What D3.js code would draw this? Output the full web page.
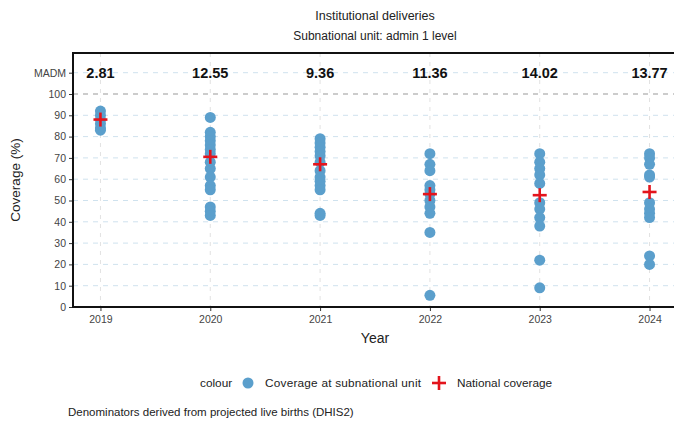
<!DOCTYPE html>
<html><head><meta charset="utf-8">
<script src="https://cdn.jsdelivr.net/npm/d3@7"></script>
<style>body{margin:0;background:#fff;font-family:"Liberation Sans",Arial,sans-serif}</style>
</head><body><svg id="c" width="674" height="422"></svg>
<script>
const years = [2019, 2020, 2021, 2022, 2023, 2024];
const madm = ["2.81", "12.55", "9.36", "11.36", "14.02", "13.77"];
const national = [88, 70.5, 67, 53, 52.5, 54];
const sub2019 = [92, 90, 88, 86, 84, 83];
const sub2020 = [89, 82, 80, 78, 76, 74, 72, 68, 65, 61, 57, 55, 47, 45, 43];
const sub2021 = [79, 77, 75, 73, 71, 68, 64, 61, 59, 57, 55, 44, 43];
const sub2022 = [72, 67, 64, 57, 55, 53, 50, 47, 44, 35, 5.5];
const sub2023 = [72, 68, 65, 62, 58, 49, 46, 42, 38, 22, 9];
const sub2024 = [72, 70, 67, 62, 61, 49, 46, 44, 42, 24, 20];
const subnational = [sub2019, sub2020, sub2021, sub2022, sub2023, sub2024];
const yTicks = [0,10,20,30,40,50,60,70,80,90,100];

const svg = d3.select("#c");
const L = 73, R = 677, T = 53, B = 307;
const x = d3.scaleLinear().domain([2018.75, 2024.25]).range([L, R]);
const y = d3.scaleLinear().domain([0, 100]).range([B, 94]);

// grid
const g = svg.append("g");
g.selectAll(".hg").data(yTicks.concat([110])).enter().append("line")
  .attr("x1", L).attr("x2", R).attr("y1", d => y(d)).attr("y2", d => y(d))
  .attr("stroke", d => d === 100 ? "#9a9a9a" : "#cfe2ee")
  .attr("stroke-width", d => d === 100 ? 1.2 : 1)
  .attr("stroke-dasharray", "5,5");
g.selectAll(".vg").data(years).enter().append("line")
  .attr("x1", d => x(d)).attr("x2", d => x(d)).attr("y1", T).attr("y2", B)
  .attr("stroke", "#e2e2e2").attr("stroke-dasharray", "4,5");

// axes
const yAxis = d3.axisLeft(y).tickValues(yTicks.concat([110])).tickSize(4)
  .tickFormat(d => d === 110 ? "MADM" : d);
const ya = svg.append("g").attr("transform", `translate(${L},0)`).call(yAxis);
ya.select(".domain").remove();
ya.selectAll("text").attr("font-size", 10.5).attr("fill", "#444").attr("font-family", "Liberation Sans, Arial");
ya.selectAll("line").attr("stroke", "#333");
const xAxis = d3.axisBottom(x).tickValues(years).tickFormat(d3.format("d")).tickSize(4);
const xa = svg.append("g").attr("transform", `translate(0,${B})`).call(xAxis);
xa.select(".domain").remove();
xa.selectAll("text").attr("font-size", 10.5).attr("fill", "#444").attr("font-family", "Liberation Sans, Arial").attr("dy", "0.9em");
xa.selectAll("line").attr("stroke", "#333");

svg.append("line").attr("x1", L).attr("x2", L).attr("y1", T).attr("y2", B).attr("stroke", "#111").attr("stroke-width", 2);
svg.append("line").attr("x1", L-1).attr("x2", 674).attr("y1", B).attr("y2", B).attr("stroke", "#111").attr("stroke-width", 2);
svg.append("line").attr("x1", L-1).attr("x2", 674).attr("y1", T).attr("y2", T).attr("stroke", "#111").attr("stroke-width", 2);

// MADM labels
svg.selectAll(".madm").data(years).enter().append("text")
  .attr("x", d => x(d)).attr("y", y(110)).attr("dy", "0.35em")
  .attr("text-anchor", "middle").attr("font-size", 14.5).attr("font-weight", "bold")
  .attr("fill", "#111").text((d, i) => madm[i]);

// points
const pts = [];
years.forEach((yr, i) => subnational[i].forEach(v => pts.push({yr, v})));
svg.selectAll(".pt").data(pts).enter().append("circle")
  .attr("cx", d => x(d.yr)).attr("cy", d => y(d.v)).attr("r", 5.5)
  .attr("fill", "#5b9fcc");

// national crosses
const cs = 7;
const cross = svg.selectAll(".nat").data(years).enter().append("g")
  .attr("transform", (d, i) => `translate(${x(d)},${y(national[i])})`);
cross.append("line").attr("x1", -cs).attr("x2", cs).attr("stroke", "#e3141c").attr("stroke-width", 2.6);
cross.append("line").attr("y1", -cs).attr("y2", cs).attr("stroke", "#e3141c").attr("stroke-width", 2.6);

// titles
svg.append("text").attr("x", 375).attr("y", 20).attr("text-anchor", "middle").attr("font-size", 12.5).attr("fill", "#222").text("Institutional deliveries");
svg.append("text").attr("x", 375).attr("y", 40).attr("text-anchor", "middle").attr("font-size", 12).attr("fill", "#222").text("Subnational unit: admin 1 level");
svg.append("text").attr("x", 375).attr("y", 343).attr("text-anchor", "middle").attr("font-size", 14).attr("fill", "#222").text("Year");
svg.append("text").attr("transform", "translate(20,180) rotate(-90)").attr("text-anchor", "middle").attr("font-size", 13.5).attr("fill", "#222").text("Coverage (%)");

// legend
const lg = svg.append("g").attr("font-size", 11.8).attr("fill", "#222");
lg.append("text").attr("x", 200).attr("y", 387).text("colour");
lg.append("circle").attr("cx", 248).attr("cy", 383).attr("r", 5.5).attr("fill", "#5b9fcc");
lg.append("text").attr("x", 265).attr("y", 387).attr("textLength", 156).text("Coverage at subnational unit");
lg.append("line").attr("x1", 432).attr("x2", 446).attr("y1", 383).attr("y2", 383).attr("stroke", "#e3141c").attr("stroke-width", 2.6);
lg.append("line").attr("x1", 439).attr("x2", 439).attr("y1", 376).attr("y2", 390).attr("stroke", "#e3141c").attr("stroke-width", 2.6);
lg.append("text").attr("x", 457).attr("y", 387).text("National coverage");
svg.append("text").attr("x", 68).attr("y", 416).attr("font-size", 11.5).attr("fill", "#222").text("Denominators derived from projected live births (DHIS2)");
</script></body></html>
